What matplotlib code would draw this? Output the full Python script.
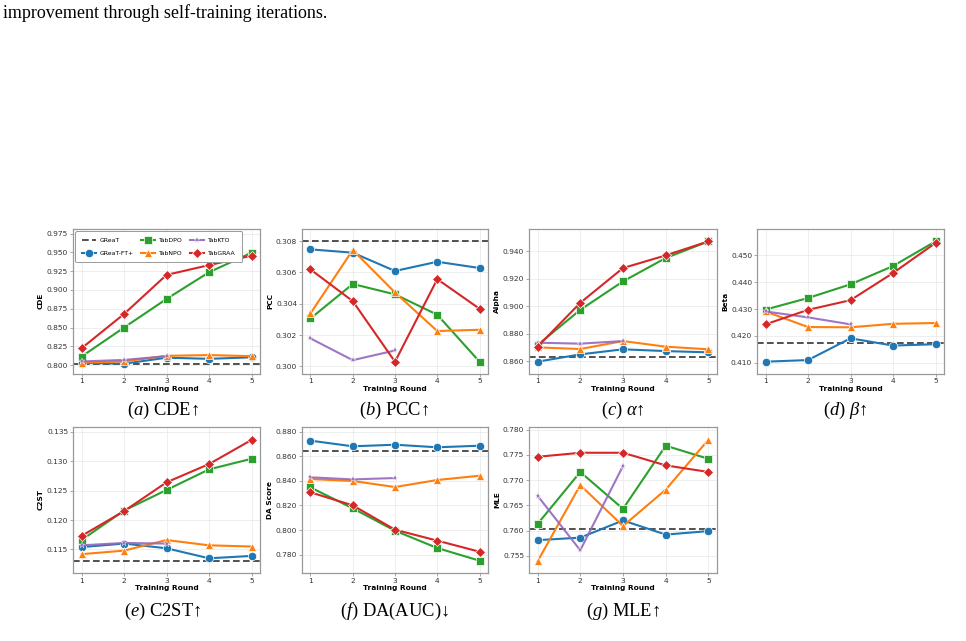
import matplotlib
matplotlib.use('Agg')
import matplotlib.pyplot as plt
from matplotlib.ticker import MultipleLocator, FormatStrFormatter

plt.rcParams['mathtext.fontset'] = 'custom'
plt.rcParams['mathtext.rm'] = 'Liberation Serif'
plt.rcParams['mathtext.it'] = 'Liberation Serif:italic'

rounds = [1, 2, 3, 4, 5]
kto_rounds = [1, 2, 3]

# (a) CDE
cde_great = 0.801
cde_ft = [0.8030, 0.8020, 0.8100, 0.8085, 0.8105]
cde_dpo = [0.8115, 0.8500, 0.8880, 0.9235, 0.9495]
cde_npo = [0.8035, 0.8050, 0.8125, 0.8135, 0.8120]
cde_kto = [0.8050, 0.8070, 0.8120]
cde_graa = [0.8225, 0.8680, 0.9200, 0.9330, 0.9455]

# (b) PCC
pcc_great = 0.3080
pcc_ft = [0.30747, 0.30726, 0.30609, 0.30668, 0.30628]
pcc_dpo = [0.30306, 0.30526, 0.30460, 0.30330, 0.30030]
pcc_npo = [0.30338, 0.30743, 0.30472, 0.30226, 0.30234]
pcc_kto = [0.30179, 0.30040, 0.30102]
pcc_graa = [0.30619, 0.30417, 0.30030, 0.30557, 0.30368]

# (c) Alpha
alpha_great = 0.8634
alpha_ft = [0.8598, 0.8651, 0.8688, 0.8675, 0.8666]
alpha_dpo = [0.8719, 0.8975, 0.9182, 0.9352, 0.9473]
alpha_npo = [0.8702, 0.8690, 0.8748, 0.8707, 0.8688]
alpha_kto = [0.8736, 0.8729, 0.8748]
alpha_graa = [0.8707, 0.9026, 0.9279, 0.9371, 0.9473]

# (d) Beta
beta_great = 0.4172
beta_ft = [0.4104, 0.4110, 0.4191, 0.4164, 0.4169]
beta_dpo = [0.4298, 0.4341, 0.4392, 0.4460, 0.4552]
beta_npo = [0.4291, 0.4233, 0.4232, 0.4245, 0.4248]
beta_kto = [0.4291, 0.4269, 0.4243]
beta_graa = [0.4243, 0.4297, 0.4333, 0.4434, 0.4546]

# (e) C2ST
c2st_great = 0.11307
c2st_ft = [0.1154, 0.1160, 0.1152, 0.1135, 0.1139]
c2st_dpo = [0.1166, 0.1216, 0.1251, 0.1286, 0.1304]
c2st_npo = [0.1142, 0.1148, 0.1166, 0.1157, 0.1155]
c2st_kto = [0.1157, 0.1161, 0.1160]
c2st_graa = [0.1173, 0.1215, 0.1264, 0.1295, 0.1336]

# (f) DA Score
da_great = 0.8640
da_ft = [0.8727, 0.8681, 0.8694, 0.8673, 0.8686]
da_dpo = [0.8347, 0.8177, 0.7995, 0.7854, 0.7751]
da_npo = [0.8415, 0.8399, 0.8350, 0.8407, 0.8442]
da_kto = [0.8429, 0.8412, 0.8423]
da_graa = [0.8307, 0.8201, 0.8003, 0.7914, 0.7824]

# (g) MLE
mle_great = 0.7603
mle_ft = [0.7581, 0.7586, 0.7620, 0.7592, 0.7599]
mle_dpo = [0.7613, 0.7716, 0.7643, 0.7768, 0.7742]
mle_npo = [0.7539, 0.7690, 0.7609, 0.7681, 0.7780]
mle_kto = [0.7669, 0.7561, 0.7728]
mle_graa = [0.7746, 0.7754, 0.7754, 0.7729, 0.7716]

panels = [
    dict(ylabel='CDE', great=cde_great, ft=cde_ft, dpo=cde_dpo, npo=cde_npo, kto=cde_kto, graa=cde_graa,
         ylim=(0.789, 0.981), step=0.025, cap=r'$\mathit{(a)}$ CDE↑'),
    dict(ylabel='PCC', great=pcc_great, ft=pcc_ft, dpo=pcc_dpo, npo=pcc_npo, kto=pcc_kto, graa=pcc_graa,
         ylim=(0.29955, 0.30877), step=0.002, cap=r'$\mathit{(b)}$ PCC↑'),
    dict(ylabel='Alpha', great=alpha_great, ft=alpha_ft, dpo=alpha_dpo, npo=alpha_npo, kto=alpha_kto, graa=alpha_graa,
         ylim=(0.8512, 0.9563), step=0.02, cap=r'$\mathit{(c)}$ $\alpha$↑'),
    dict(ylabel='Beta', great=beta_great, ft=beta_ft, dpo=beta_dpo, npo=beta_npo, kto=beta_kto, graa=beta_graa,
         ylim=(0.4060, 0.4598), step=0.01, cap=r'$\mathit{(d)}$ $\beta$↑'),
    dict(ylabel='C2ST', great=c2st_great, ft=c2st_ft, dpo=c2st_dpo, npo=c2st_npo, kto=c2st_kto, graa=c2st_graa,
         ylim=(0.1110, 0.1358), step=0.005, cap=r'$\mathit{(e)}$ C2ST↑'),
    dict(ylabel='DA Score', great=da_great, ft=da_ft, dpo=da_dpo, npo=da_npo, kto=da_kto, graa=da_graa,
         ylim=(0.7651, 0.8838), step=0.02, cap=r'$\mathit{(f)}$ DA(AUC)↓'),
    dict(ylabel='MLE', great=mle_great, ft=mle_ft, dpo=mle_dpo, npo=mle_npo, kto=mle_kto, graa=mle_graa,
         ylim=(0.7516, 0.7805), step=0.005, cap=r'$\mathit{(g)}$ MLE↑'),
]

W, H = 966, 641
fig = plt.figure(figsize=(W / 100, H / 100), dpi=100)

cols = [(73, 260), (302, 488), (529, 717), (757, 944)]
rows = [(229, 373.5), (427, 573)]
cap_y = [410, 611]
cap_dx = [-4, -1, 0, -5]

C_BLUE, C_ORANGE, C_GREEN, C_RED, C_PURPLE = '#1f77b4', '#ff7f0e', '#2ca02c', '#d62728', '#9467bd'

for i, p in enumerate(panels):
    r, c = divmod(i, 4)
    x0, x1 = cols[c]
    yt, yb = rows[r]
    ax = fig.add_axes([x0 / W, 1 - yb / H, (x1 - x0) / W, (yb - yt) / H])
    ax.set_axisbelow(True)
    ax.grid(True, color='#ebebeb', lw=0.6)
    for s in ax.spines.values():
        s.set_color('#999999')
        s.set_linewidth(0.9)
    lw = 1.5
    ax.axhline(p['great'], color='#333333', lw=1.2, ls=(0, (4, 2)), label='GReaT', zorder=2)
    ax.plot(rounds, p['ft'], color=C_BLUE, marker='o', ms=6.0, mec='white', mew=0.5, lw=lw, label='GReaT-FT+', zorder=3)
    ax.plot(rounds, p['dpo'], color=C_GREEN, marker='s', ms=5.5, mec='white', mew=0.5, lw=lw, label='TabDPO', zorder=3)
    ax.plot(rounds, p['npo'], color=C_ORANGE, marker='^', ms=6.0, mec='white', mew=0.5, lw=lw, label='TabNPO', zorder=3)
    ax.plot(kto_rounds, p['kto'], color=C_PURPLE, marker='*', ms=4.8, mec='white', mew=0.3, lw=lw, alpha=0.9,
            label='TabKTO', zorder=3)
    ax.plot(rounds, p['graa'], color=C_RED, marker='D', ms=5.6, mec='white', mew=0.5, lw=lw, label='TabGRAA', zorder=3)
    ax.set_xlim(0.8, 5.2)
    ax.set_ylim(*p['ylim'])
    ax.set_xticks(rounds)
    ax.yaxis.set_major_locator(MultipleLocator(p['step']))
    ax.yaxis.set_major_formatter(FormatStrFormatter('%.3f'))
    ax.tick_params(labelsize=5.4, length=2, width=0.6, color='#999999', labelcolor='#333333', pad=1.5)
    ax.set_xlabel('Training Round', fontsize=5.3, fontweight='bold', labelpad=1)
    ax.set_ylabel(p['ylabel'], fontsize=5.3, fontweight='bold', labelpad=2)
    if i == 0:
        h, l = ax.get_legend_handles_labels()
        order = ['GReaT', 'GReaT-FT+', 'TabDPO', 'TabNPO', 'TabKTO', 'TabGRAA']
        hs = [h[l.index(o)] for o in order]
        leg = ax.legend(hs, order, loc='upper left', ncol=3, fontsize=4.4, frameon=True, framealpha=1,
                        edgecolor='#999999', handlelength=2.3, columnspacing=1.1, borderpad=1.0,
                        labelspacing=1.3, handletextpad=0.7, borderaxespad=0.4)
        leg.get_frame().set_linewidth(0.7)
    fig.text((x0 + x1) / 2 / W + cap_dx[c] / W, 1 - cap_y[r] / H, p['cap'], ha='center', va='center',
             fontsize=13.3, family=['Liberation Serif', 'DejaVu Serif'])

fig.text(3 / W, 1 - 13 / H, 'improvement through self-training iterations.', ha='left', va='center',
         fontsize=13, family='Liberation Serif')

fig.savefig('out.png', dpi=100)
